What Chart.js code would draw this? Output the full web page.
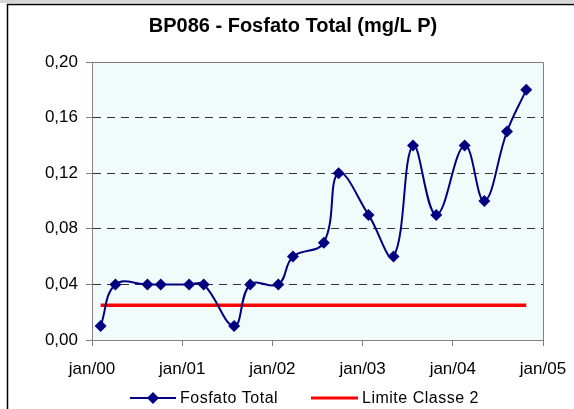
<!DOCTYPE html>
<html>
<head>
<meta charset="utf-8">
<script src="https://cdn.jsdelivr.net/npm/chart.js@4"></script>
<style>
    html, body { margin: 0; padding: 0; background: #fff; }
    #wrap { width: 574px; height: 409px; }
</style>
</head>
<body>
<div id="wrap"><canvas id="fosfatoChart" width="574" height="409"></canvas></div>
<script>
// Sampling dates and measured values (mg/L P)
const sampleDates = [
    '2000-02-05', '2000-04-05', '2000-08-13', '2000-10-06',
    '2001-01-29', '2001-03-29', '2001-07-30', '2001-10-03',
    '2002-01-25', '2002-03-25', '2002-07-28', '2002-09-26',
    '2003-01-25', '2003-05-06', '2003-07-24', '2003-10-26',
    '2004-02-18', '2004-05-08', '2004-08-08', '2004-10-25'
];
const fosfatoTotal = [
    0.01, 0.04, 0.04, 0.04,
    0.04, 0.04, 0.01, 0.04,
    0.04, 0.06, 0.07, 0.12,
    0.09, 0.06, 0.14, 0.09,
    0.14, 0.10, 0.15, 0.18
];
const limiteClasse2 = 0.025;
const xTickYears = [2000, 2001, 2002, 2003, 2004, 2005];
const xTickLabels = ['jan/00', 'jan/01', 'jan/02', 'jan/03', 'jan/04', 'jan/05'];
const yTicks = [0, 0.04, 0.08, 0.12, 0.16, 0.20];

const chartTitle = 'BP086 - Fosfato Total (mg/L P)';
const FONT = "'Liberation Sans', Arial, sans-serif";
const NAVY = '#000080';
const RED = '#ff0000';
const AXIS_GREY = '#808080';

// date string -> fractional year
function toYear(str) {
    const [y, m, d] = str.split('-').map(Number);
    const start = Date.UTC(y, 0, 1);
    const end = Date.UTC(y + 1, 0, 1);
    return y + (Date.UTC(y, m - 1, d) - start) / (end - start);
}

const fosfatoPoints = sampleDates.map((d, i) => ({ x: toYear(d), y: fosfatoTotal[i] }));
const limitePoints = [
    { x: toYear(sampleDates[0]), y: limiteClasse2 },
    { x: toYear(sampleDates[sampleDates.length - 1]), y: limiteClasse2 }
];

// plot background, plot frame, outer frame, title and legend
const decorations = {
    id: 'decorations',
    beforeDraw(chart) {
        const { ctx, chartArea: a } = chart;
        ctx.save();
        ctx.fillStyle = '#d6d6d6';
        ctx.fillRect(0, 0, chart.width, 3);
        ctx.fillStyle = '#f1fbfb';
        ctx.fillRect(a.left, a.top, a.right - a.left, a.bottom - a.top);
        ctx.restore();
    },
    afterDraw(chart) {
        const { ctx, chartArea: a } = chart;
        ctx.save();

        ctx.strokeStyle = AXIS_GREY;
        ctx.lineWidth = 1;
        ctx.beginPath();
        ctx.moveTo(a.left, a.top + 0.5);
        ctx.lineTo(a.right + 0.5, a.top + 0.5);
        ctx.lineTo(a.right + 0.5, a.bottom);
        ctx.stroke();

        ctx.strokeStyle = '#000';
        ctx.lineWidth = 1.5;
        ctx.strokeRect(7.5, 4.5, 620, 460);

        ctx.fillStyle = '#000';
        ctx.font = 'bold 20px ' + FONT;
        ctx.textAlign = 'center';
        ctx.textBaseline = 'middle';
        ctx.fillText(chartTitle, 293, 26);

        // legend
        const ly = 398;
        const ds = chart.data.datasets;
        ctx.font = '16px ' + FONT;
        ctx.letterSpacing = '0.5px';
        ctx.textAlign = 'left';

        ctx.strokeStyle = NAVY;
        ctx.lineWidth = 2;
        ctx.beginPath();
        ctx.moveTo(130, ly);
        ctx.lineTo(176, ly);
        ctx.stroke();
        ctx.fillStyle = NAVY;
        ctx.beginPath();
        ctx.moveTo(153, ly - 6);
        ctx.lineTo(159, ly);
        ctx.lineTo(153, ly + 6);
        ctx.lineTo(147, ly);
        ctx.closePath();
        ctx.fill();
        ctx.fillStyle = '#000';
        ctx.fillText(ds[0].label, 180, ly + 1);

        ctx.strokeStyle = RED;
        ctx.lineWidth = 3;
        ctx.beginPath();
        ctx.moveTo(311, ly);
        ctx.lineTo(358, ly);
        ctx.stroke();
        ctx.fillText(ds[1].label, 362, ly + 1);

        ctx.restore();
    }
};

const ctx = document.getElementById('fosfatoChart').getContext('2d');
new Chart(ctx, {
    type: 'line',
    data: {
        datasets: [{
            label: 'Fosfato Total',
            data: fosfatoPoints,
            borderColor: NAVY,
            backgroundColor: NAVY,
            borderWidth: 2,
            tension: 0.4,
            pointStyle: 'rectRot',
            pointRadius: 6,
            pointBorderWidth: 0,
            pointBackgroundColor: NAVY
        }, {
            label: 'Limite Classe 2',
            data: limitePoints,
            borderColor: RED,
            borderWidth: 3.5,
            pointRadius: 0,
            tension: 0
        }]
    },
    options: {
        responsive: false,
        animation: false,
        layout: { padding: { left: 0, right: 31, top: 62, bottom: 29 } },
        plugins: {
            legend: { display: false },
            title: { display: false },
            tooltip: { enabled: false }
        },
        scales: {
            x: {
                type: 'linear',
                min: xTickYears[0],
                max: xTickYears[xTickYears.length - 1],
                afterBuildTicks(scale) {
                    scale.ticks = xTickYears.map(v => ({ value: v }));
                },
                afterFit(scale) {
                    scale.height = 40;
                    scale.paddingLeft = 0;
                    scale.paddingRight = 0;
                },
                ticks: {
                    color: '#000',
                    font: { family: FONT, size: 17 },
                    padding: 13,
                    maxRotation: 0,
                    callback: (v) => xTickLabels[xTickYears.indexOf(v)]
                },
                grid: {
                    drawOnChartArea: false,
                    tickLength: 6,
                    tickColor: AXIS_GREY
                },
                border: { color: AXIS_GREY, width: 1 }
            },
            y: {
                min: yTicks[0],
                max: yTicks[yTicks.length - 1],
                afterBuildTicks(scale) {
                    scale.ticks = yTicks.map(v => ({ value: v }));
                },
                afterFit(scale) {
                    scale.width = 92;
                    scale.paddingTop = 0;
                    scale.paddingBottom = 0;
                },
                ticks: {
                    color: '#000',
                    font: { family: FONT, size: 17 },
                    padding: 8,
                    callback: (v) => v.toFixed(2).replace('.', ',')
                },
                grid: {
                    color: (c) => (c.tick && c.tick.value > 0.001 && c.tick.value < 0.199) ? '#333333' : 'rgba(0,0,0,0)',
                    lineWidth: 1,
                    tickLength: 6,
                    tickColor: AXIS_GREY
                },
                border: { color: AXIS_GREY, width: 1, dash: [8, 6] }
            }
        }
    },
    plugins: [decorations]
});
</script>
</body>
</html>
